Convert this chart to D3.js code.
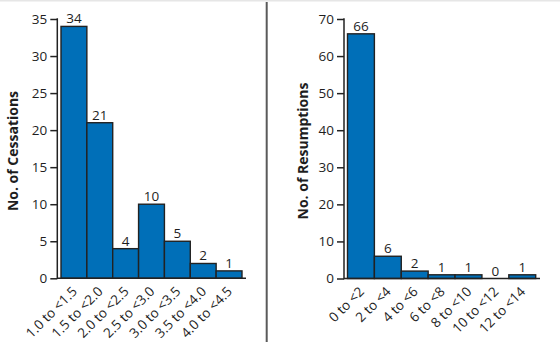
<!DOCTYPE html>
<html><head><meta charset="utf-8">
<script src="https://cdn.jsdelivr.net/npm/d3@7"></script>
<style>
html,body{margin:0;padding:0;background:#fff;}
svg{display:block;}
text{font-family:"Open Sans",Lato,sans-serif;fill:#1e1e1e;}
</style></head>
<body>
<script>
// Data
const cessCategories = ["1.0 to <1.5","1.5 to <2.0","2.0 to <2.5","2.5 to <3.0","3.0 to <3.5","3.5 to <4.0","4.0 to <4.5"];
const cessValues = [34, 21, 4, 10, 5, 2, 1];
const cessTicks = [0, 5, 10, 15, 20, 25, 30, 35];
const resCategories = ["0 to <2","2 to <4","4 to <6","6 to <8","8 to <10","10 to <12","12 to <14"];
const resValues = [66, 6, 2, 1, 1, 0, 1];
const resTicks = [0, 10, 20, 30, 40, 50, 60, 70];

const W = 560, H = 342;
const svg = d3.select("body").append("svg").attr("width", W).attr("height", H);

// top border & divider
svg.append("line").attr("x1",0).attr("x2",W).attr("y1",0.5).attr("y2",0.5).attr("stroke","#e6e6e6").attr("stroke-width",2);
svg.append("line").attr("x1",266.7).attr("x2",266.7).attr("y1",2).attr("y2",H).attr("stroke","#5a5a5a").attr("stroke-width",2);

const BAR = "#006fb8", STROKE = "#222";
const FONT = "'Open Sans', sans-serif";

function panel(cfg){
  const g = svg.append("g");
  const x = d3.scaleBand().domain(cfg.cats).range([cfg.x0, cfg.x1]).padding(0);
  const y = d3.scaleLinear().domain([0, cfg.max]).range([cfg.y0, cfg.yTop]);

  // y axis
  const ya = g.append("g").attr("transform",`translate(${cfg.ax},0)`)
    .call(d3.axisLeft(y).tickValues(cfg.ticks).tickSize(7).tickPadding(3));
  ya.select(".domain").remove();
  ya.selectAll(".tick line").attr("stroke",STROKE).attr("stroke-width",1.5);
  ya.selectAll(".tick text").attr("font-size",13.5).attr("fill","#1e1e1e").attr("font-family",FONT);
  g.append("line").attr("x1",cfg.ax).attr("x2",cfg.ax).attr("y1",cfg.yTop-0.75).attr("y2",cfg.y0+0.75)
    .attr("stroke",STROKE).attr("stroke-width",1.5);

  // bars
  g.selectAll("rect.bar").data(cfg.vals.map((v,i)=>({c:cfg.cats[i],v}))).enter()
    .filter(d=>d.v>0)
    .append("rect").attr("class","bar")
    .attr("x",d=>x(d.c)).attr("width",x.bandwidth())
    .attr("y",d=>y(d.v)).attr("height",d=>y(0)-y(d.v))
    .attr("fill",BAR).attr("stroke",STROKE).attr("stroke-width",1.4);

  // value labels
  g.selectAll("text.val").data(cfg.vals.map((v,i)=>({c:cfg.cats[i],v}))).enter()
    .append("text").attr("class","val")
    .attr("x",d=>x(d.c)+x.bandwidth()/2).attr("y",d=>y(d.v)-3)
    .attr("text-anchor","middle").attr("font-size",13.5).text(d=>d.v);

  // x axis line
  g.append("line").attr("x1",cfg.ax).attr("x2",cfg.xEnd).attr("y1",cfg.y0).attr("y2",cfg.y0)
    .attr("stroke",STROKE).attr("stroke-width",1.5);

  // x tick labels
  g.selectAll("text.xl").data(cfg.cats).enter().append("text").attr("class","xl")
    .attr("transform",d=>`translate(${x(d)+x.bandwidth()/2+4},${cfg.y0+14}) rotate(-45)`)
    .attr("text-anchor","end").attr("font-size",13.5).text(d=>d);

  // y title
  g.append("text").attr("transform",`translate(${cfg.titleX},${cfg.titleY}) rotate(-90)`)
    .attr("text-anchor","middle").attr("font-weight","bold").attr("font-size",14).text(cfg.title);
}

panel({cats:cessCategories, vals:cessValues, ticks:cessTicks, max:35,
  x0:61, x1:242, xEnd:246, ax:57.3, y0:278.3, yTop:19,
  title:"No. of Cessations", titleX:17.5, titleY:151});
panel({cats:resCategories, vals:resValues, ticks:resTicks, max:70,
  x0:347.5, x1:535.7, xEnd:540, ax:344, y0:278.5, yTop:19,
  title:"No. of Resumptions", titleX:307.5, titleY:151});
</script>
</body></html>
